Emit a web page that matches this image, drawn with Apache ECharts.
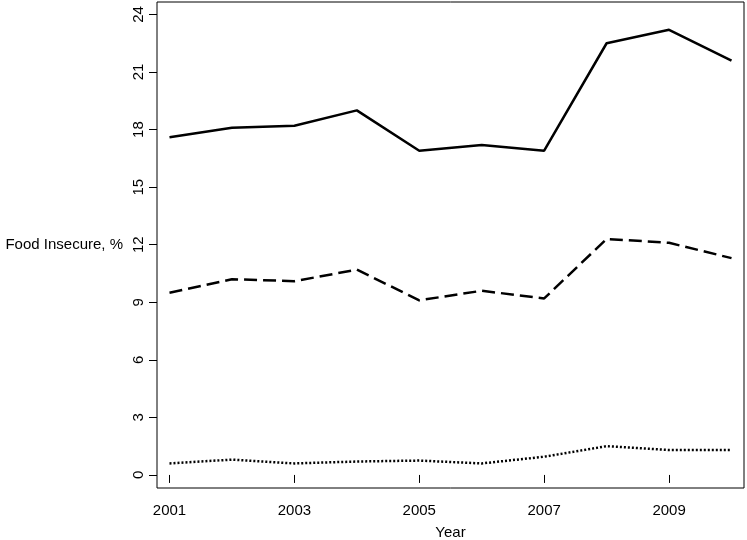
<!DOCTYPE html>
<html>
<head>
<meta charset="utf-8">
<script src="https://cdn.jsdelivr.net/npm/echarts@6/dist/echarts.min.js"></script>
<style>html,body{margin:0;padding:0;background:#fff}#c{width:747px;height:540px}</style>
</head>
<body>
<div id="c"></div>
<script>
const years = [2001, 2002, 2003, 2004, 2005, 2006, 2007, 2008, 2009, 2010];
const seriesSolid = [17.6, 18.1, 18.2, 19.0, 16.9, 17.2, 16.9, 22.5, 23.2, 21.6];
const seriesDashed = [9.5, 10.2, 10.1, 10.7, 9.1, 9.6, 9.2, 12.3, 12.1, 11.3];
const seriesDotted = [0.6, 0.8, 0.6, 0.7, 0.75, 0.6, 0.95, 1.5, 1.3, 1.3];
const xTicks = [2001, 2003, 2005, 2007, 2009];
const yTicks = [0, 3, 6, 9, 12, 15, 18, 21, 24];

const font = 'Liberation Sans, Arial, Helvetica, sans-serif';
const pair = arr => years.map((y, i) => [y, arr[i]]);

const chart = echarts.init(document.getElementById('c'), null, {renderer: 'canvas'});
chart.setOption({
  animation: false,
  backgroundColor: '#fff',
  grid: {left: 157, right: 3, top: 2, bottom: 52, show: true, borderColor: '#000', borderWidth: 1, backgroundColor: 'transparent', containLabel: false, outerBoundsMode: 'none'},
  xAxis: {
    type: 'value', min: 2000.8, max: 2010.2,
    name: 'Year', nameLocation: 'middle', nameGap: 37,
    nameTextStyle: {fontFamily: font, fontSize: 15, color: '#000'},
    axisLine: {show: false},
    splitLine: {show: false},
    axisTick: {show: true, length: 8, lineStyle: {color: '#000'}, customValues: xTicks},
    axisLabel: {fontFamily: font, fontSize: 15, color: '#000', margin: 15, customValues: xTicks, formatter: v => String(v)}
  },
  yAxis: {
    type: 'value', min: -0.68, max: 24.65,
    name: 'Food Insecure, %', nameLocation: 'middle', nameRotate: 0, nameGap: 34,
    nameTextStyle: {fontFamily: font, fontSize: 15, color: '#000'},
    axisLine: {show: false},
    splitLine: {show: false},
    axisTick: {show: true, length: 8, lineStyle: {color: '#000'}, customValues: yTicks},
    axisLabel: {fontFamily: font, fontSize: 15, color: '#000', rotate: 90, margin: 11, customValues: yTicks}
  },
  series: [
    {type: 'line', data: pair(seriesSolid), showSymbol: false, lineStyle: {color: '#000', width: 2.5, type: 'solid'}},
    {type: 'line', data: pair(seriesDashed), showSymbol: false, lineStyle: {color: '#000', width: 2.5, type: [13, 6]}},
    {type: 'line', data: pair(seriesDotted), showSymbol: false, lineStyle: {color: '#000', width: 2.5, type: [2, 2]}}
  ]
});
</script>
</body>
</html>
